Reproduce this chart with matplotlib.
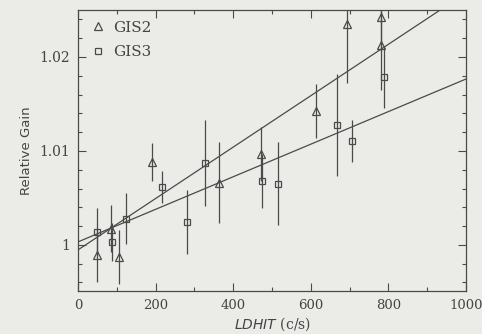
import matplotlib
matplotlib.use("Agg")
import matplotlib.pyplot as plt
import numpy as np
from matplotlib.lines import Line2D
from matplotlib.ticker import MultipleLocator, FixedLocator

# GIS2 points (triangles)
gis2_x = [49, 85, 106, 191, 363, 472, 613, 693, 781, 781]
gis2_y = [0.99894, 1.0017, 0.99872, 1.00883, 1.0066, 1.00968, 1.01426, 1.02351, 1.02128, 1.02426]
gis2_err = [0.0029, 0.0025, 0.0029, 0.0020, 0.0043, 0.0029, 0.0029, 0.0063, 0.0048, 0.0036]

# GIS3 points (squares)
gis3_x = [49, 87, 124, 216, 281, 327, 474, 515, 668, 706, 789]
gis3_y = [1.00138, 1.0003, 1.00277, 1.00617, 1.00245, 1.00872, 1.00681, 1.0065, 1.01277, 1.01106, 1.01787]
gis3_err = [0.0025, 0.0020, 0.0027, 0.0017, 0.0034, 0.0046, 0.0029, 0.0044, 0.0054, 0.0022, 0.0033]

# linear fits: intercept, slope
gis2_fit = (0.99947, 2.736e-5)
gis3_fit = (1.00032, 1.734e-5)

bg = "#ebebe8"
ink = "#4a4a4a"
txt = "#444444"

plt.rcParams["font.family"] = "DejaVu Serif"

fig = plt.figure(figsize=(4.82, 3.34), dpi=100, facecolor=bg)
ax = fig.add_axes([0.162, 0.129, 0.805, 0.841], facecolor=bg)

ax.errorbar(gis2_x, gis2_y, yerr=gis2_err, fmt="^", ms=5.5, mfc="none", mec=ink,
            ecolor=ink, elinewidth=0.9, capsize=0, mew=0.9)
ax.errorbar(gis3_x, gis3_y, yerr=gis3_err, fmt="s", ms=5, mfc="none", mec=ink,
            ecolor=ink, elinewidth=0.9, capsize=0, mew=0.9)

xx = np.array([0, 1000])
for b, m in (gis2_fit, gis3_fit):
    ax.plot(xx, b + m * xx, color=ink, lw=0.9)

ax.set_xlim(0, 1000)
ax.set_ylim(0.9951, 1.0250)

ax.xaxis.set_major_locator(MultipleLocator(200))
ax.xaxis.set_minor_locator(MultipleLocator(100))
ax.yaxis.set_major_locator(FixedLocator([1.0, 1.01, 1.02]))
ax.yaxis.set_minor_locator(MultipleLocator(0.002))
ax.set_yticklabels(["1", "1.01", "1.02"])

ax.tick_params(which="both", direction="in", top=True, right=True, colors=ink,
               labelcolor=txt, labelsize=10, width=0.8)
ax.tick_params(axis="x", labelsize=9.5)
ax.tick_params(which="major", length=6, pad=6)
ax.tick_params(which="minor", length=3)
for s in ax.spines.values():
    s.set_color(ink)
    s.set_linewidth(0.9)

ax.set_xlabel(r"$\mathit{LDHIT}$ (c/s)", fontsize=10, color=txt, labelpad=2)
ax.set_ylabel("Relative Gain", fontsize=9.5, family="DejaVu Sans", color=txt, labelpad=4)

handles = [
    Line2D([], [], marker="^", ls="none", ms=5.5, mfc="none", mec=ink, mew=0.9),
    Line2D([], [], marker="s", ls="none", ms=5, mfc="none", mec=ink, mew=0.9),
]
ax.legend(handles, ["GIS2", "GIS3"], loc="upper left", frameon=False, fontsize=11,
          handletextpad=0.4, borderaxespad=0.3, labelspacing=0.7, handlelength=1.2,
          labelcolor=txt)

fig.savefig("out.png", dpi=100, facecolor=bg)
